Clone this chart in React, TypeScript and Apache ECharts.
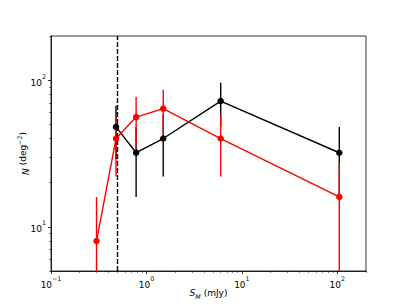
import React, { useEffect, useRef } from "react";
import * as echarts from "echarts";

// Data
const blackX = [0.48, 0.78, 1.5, 6.0, 105];
const blackY = [48, 32, 40, 72, 32];
const blackErr = [19, 16, 18, 24, 16];

const redX = [0.3, 0.48, 0.78, 1.5, 6.0, 105];
const redY = [8, 40, 56, 64, 40, 16];
const redErr = [8, 18, 21, 22, 18, 11.5];

const cutLine = 0.5;

const xMajor = [0.1, 1, 10, 100];
const yMajor = [10, 100];

const xMinor: number[] = [];
[0.1, 1, 10, 100].forEach((d) => {
  for (let k = 2; k <= 9; k++) xMinor.push(+(d * k).toPrecision(6));
});
const yMinor: number[] = [];
[1, 10, 100].forEach((d) => {
  for (let k = 2; k <= 9; k++) yMinor.push(+(d * k).toPrecision(6));
});

const FONT = "DejaVu Sans";
const fmt = (v: number) => {
  const e = Math.round(Math.log10(v));
  return "{b|10}{s|" + String(e).replace("-", "\u2212") + "}";
};
const tickRich = {
  b: { fontFamily: FONT, fontSize: 9, color: "#000", lineHeight: 14, verticalAlign: "bottom" },
  s: { fontFamily: FONT, fontSize: 6.3, color: "#000", lineHeight: 8, verticalAlign: "top" },
};

export default function App() {
  const ref = useRef<HTMLDivElement>(null);
  useEffect(() => {
    if (!ref.current) return;
    const chart = echarts.init(ref.current, undefined, { renderer: "svg" });

    const errItem = (color: string) => (params: any, api: any) => {
      const x = api.value(0);
      const lo = Math.max(api.value(1), 1e-3);
      const hi = api.value(2);
      const p1 = api.coord([x, lo]);
      const p2 = api.coord([x, hi]);
      return {
        type: "line",
        shape: { x1: p1[0], y1: p1[1], x2: p2[0], y2: p2[1] },
        style: { stroke: color, lineWidth: 1.4 },
      };
    };

    const baseX = {
      type: "log",
      logBase: 10,
      min: 0.1,
      max: 200,
      position: "bottom",
      splitLine: { show: false },
    };
    const baseY = {
      type: "log",
      logBase: 10,
      min: 5,
      max: 200,
      position: "left",
      splitLine: { show: false },
    };

    chart.setOption({
      animation: false,
      backgroundColor: "#ffffff",
      grid: {
        left: 51,
        right: 41,
        top: 36,
        bottom: 34,
        show: true,
        borderColor: "#000",
        borderWidth: 0.8,
        containLabel: false,
        outerBoundsMode: "none",
      },
      xAxis: [
        {
          ...baseX,
          name: "{i|S}{sub|M} (mJy)",
          nameLocation: "middle",
          nameGap: 16,
          nameMoveOverlap: false,
          nameTextStyle: {
            fontFamily: FONT,
            fontSize: 9,
            color: "#000",
            verticalAlign: "top",
            lineHeight: 12,
            rich: {
              i: { fontFamily: FONT, fontStyle: "italic", fontSize: 9, color: "#000", lineHeight: 12, verticalAlign: "middle" },
              sub: { fontFamily: FONT, fontStyle: "italic", fontSize: 6.3, color: "#000", lineHeight: 6, verticalAlign: "bottom" },
            },
          },
          axisLine: { show: true, lineStyle: { color: "#000", width: 0.8 } },
          axisTick: { show: true, inside: false, length: 3, lineStyle: { color: "#000", width: 0.8 }, customValues: xMajor },
          axisLabel: { show: true, customValues: xMajor, formatter: fmt, rich: tickRich, margin: 4 },
        },
        {
          ...baseX,
          axisLine: { show: false },
          axisTick: { show: true, inside: false, length: 1.8, lineStyle: { color: "#000", width: 0.6 }, customValues: xMinor },
          axisLabel: { show: false },
        },
      ],
      yAxis: [
        {
          ...baseY,
          name: "{i|N} (deg{s|\u22122})",
          nameLocation: "middle",
          nameGap: 21,
          nameMoveOverlap: false,
          nameRotate: 90,
          nameTextStyle: {
            fontFamily: FONT,
            fontSize: 9,
            color: "#000",
            rich: {
              i: { fontFamily: FONT, fontStyle: "italic", fontSize: 9, color: "#000", lineHeight: 14, verticalAlign: "bottom" },
              s: { fontFamily: FONT, fontSize: 6.3, color: "#000", lineHeight: 8, verticalAlign: "top" },
            },
          },
          axisLine: { show: true, lineStyle: { color: "#000", width: 0.8 } },
          axisTick: { show: true, inside: false, length: 3, lineStyle: { color: "#000", width: 0.8 }, customValues: yMajor },
          axisLabel: { show: true, customValues: yMajor, formatter: fmt, rich: tickRich, margin: 5 },
        },
        {
          ...baseY,
          axisLine: { show: false },
          axisTick: { show: true, inside: false, length: 1.8, lineStyle: { color: "#000", width: 0.6 }, customValues: yMinor },
          axisLabel: { show: false },
        },
      ],
      series: [
        {
          type: "custom",
          clip: true,
          renderItem: errItem("#000000"),
          encode: { x: 0, y: [1, 2] },
          data: blackX.map((x, i) => [x, blackY[i] - blackErr[i], blackY[i] + blackErr[i]]),
          silent: true,
        },
        {
          type: "line",
          data: blackX.map((x, i) => [x, blackY[i]]),
          symbol: "circle",
          symbolSize: 6.5,
          itemStyle: { color: "#000000" },
          lineStyle: { color: "#000000", width: 1.4 },
          silent: true,
        },
        {
          type: "custom",
          clip: true,
          renderItem: errItem("#ff0000"),
          encode: { x: 0, y: [1, 2] },
          data: redX.map((x, i) => [x, redY[i] - redErr[i], redY[i] + redErr[i]]),
          silent: true,
        },
        {
          type: "line",
          data: redX.map((x, i) => [x, redY[i]]),
          symbol: "circle",
          symbolSize: 6.5,
          itemStyle: { color: "#ff0000" },
          lineStyle: { color: "#ff0000", width: 1.4 },
          silent: true,
          markLine: {
            silent: true,
            symbol: ["none", "none"],
            label: { show: false },
            lineStyle: { color: "#000", type: [5, 2], width: 1.4 },
            data: [{ xAxis: cutLine }],
          },
        },
      ],
    });
    return () => chart.dispose();
  }, []);
  return (
    <div
      ref={ref}
      style={{ position: "fixed", left: 0, top: 0, width: 407, height: 305, background: "#fff" }}
    />
  );
}
